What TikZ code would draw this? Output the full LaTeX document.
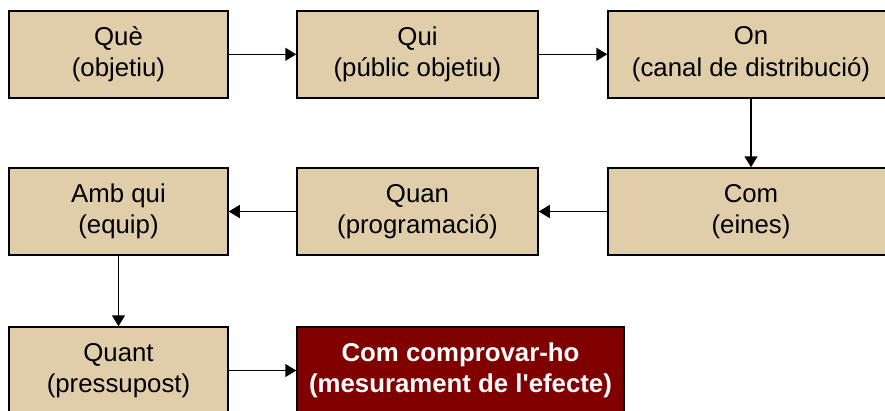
\documentclass[tikz,border=0pt]{standalone}
\usepackage{fontspec}
\setmainfont{Liberation Sans}
\usetikzlibrary{arrows.meta,positioning}
\definecolor{stagecol}{RGB}{224,206,170}
\definecolor{checkcol}{RGB}{128,0,0}

\begin{document}
\begin{tikzpicture}[x=1pt, y=-1pt,
    stage/.style={rectangle, minimum height=87pt, inner sep=0pt, draw=black, line width=1.5pt, fill=stagecol, font=\fontsize{25.8}{31.5}\selectfont, align=center},
    goal/.style={stage, fill=checkcol, text=white, font=\fontsize{25.8}{31.5}\selectfont\bfseries},
    flow/.style={-{Triangle[length=11pt,width=13pt]}, line width=1.5pt},
]
\useasboundingbox (0,0) rectangle (885,410);

% first row
\node[stage, minimum width=219pt] (que) at (118.5,54.3) {Què\\(objetiu)};
\node[stage, minimum width=241pt] (qui) at (417.5,54.3) {Qui\\(públic objetiu)};
\node[stage, minimum width=286pt] (on) at (751,54.3) {On\\(canal de distribució)};

% second row, right to left
\node[stage, minimum width=286pt] (com) at (751,211.5) {Com\\(eines)};
\node[stage, minimum width=241pt] (quan) at (417.5,211.5) {Quan\\(programació)};
\node[stage, minimum width=219pt] (ambqui) at (118.5,211.5) {Amb qui\\(equip)};

% third row
\node[stage, minimum width=219pt] (quant) at (118.5,370.5) {Quant\\(pressupost)};
\node[goal, minimum width=327pt] (check) at (460.5,370.5) {Com comprovar-ho\\(mesurament de l\textquotesingle efecte)};

\draw[flow] (que) -- (qui);
\draw[flow] (qui) -- (on);
\draw[flow] (on) -- (com);
\draw[flow] (com) -- (quan);
\draw[flow] (quan) -- (ambqui);
\draw[flow] (ambqui) -- (quant);
\draw[flow] (quant) -- (check);
\end{tikzpicture}
\end{document}
